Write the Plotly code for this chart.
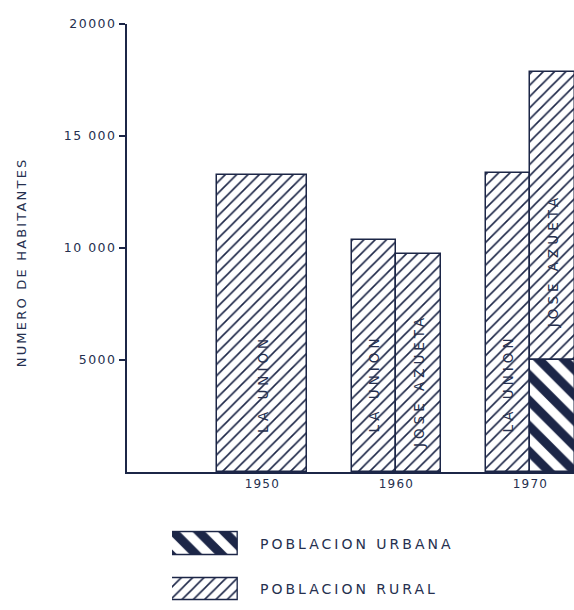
import plotly.graph_objects as go

# ---- data ----
years = [1950, 1960, 1970]
municipios = ["LA UNION", "JOSE AZUETA"]
la_union_total = [13250, 10350, 13350]
jose_azueta_total = [None, 9750, 17850]
jose_azueta_urbana = [None, None, 5000]
y_ticks = [5000, 10000, 15000, 20000]
y_ticktext = ["5000", "10 000", "15 000", "20000"]
legend_labels = ["POBLACION URBANA", "POBLACION RURAL"]
y_title = "NUMERO DE HABITANTES"

# ---- styling ----
NAVY = "#1c2647"
TEXT = "#26304f"
FONT = "DejaVu Sans"
GROUP_W = 6.7

RURAL_PAT = dict(shape="/", fgcolor=NAVY, bgcolor="white", size=8, solidity=0.2, fgopacity=1)
URB_PAT = dict(shape="\\", fgcolor=NAVY, bgcolor="white", size=18, solidity=0.5, fgopacity=1)

rural_x, rural_y, rural_base, rural_w = [], [], [], []
urb_x, urb_y, urb_w = [], [], []
labels = []
for i, yr in enumerate(years):
    vals = [(municipios[0], la_union_total[i], None),
            (municipios[1], jose_azueta_total[i], jose_azueta_urbana[i])]
    present = [v for v in vals if v[1] is not None]
    n = len(present)
    w = GROUP_W / n
    for j, (name, tot, urb) in enumerate(present):
        xc = yr - GROUP_W / 2 + w * (j + 0.5)
        base = urb if urb is not None else 0
        rural_x.append(xc); rural_y.append(tot - base); rural_base.append(base); rural_w.append(w)
        if urb is not None:
            urb_x.append(xc); urb_y.append(urb); urb_w.append(w)
        labels.append((xc, name, urb is not None))

fig = go.Figure()
fig.add_trace(go.Bar(
    x=rural_x, y=rural_y, base=rural_base, width=rural_w,
    marker=dict(color="white", opacity=1, line=dict(color=NAVY, width=1.5), pattern=RURAL_PAT),
    showlegend=False, xaxis="x", yaxis="y", hoverinfo="skip"))
fig.add_trace(go.Bar(
    x=urb_x, y=urb_y, width=urb_w,
    marker=dict(color="white", opacity=1, line=dict(color=NAVY, width=1.5), pattern=URB_PAT),
    showlegend=False, xaxis="x", yaxis="y", hoverinfo="skip"))

# legend swatches drawn in a small auxiliary subplot
fig.add_trace(go.Bar(
    y=[1], x=[1], orientation="h", width=0.495,
    marker=dict(color="white", opacity=1, line=dict(color=NAVY, width=1.5), pattern=URB_PAT),
    showlegend=False, xaxis="x2", yaxis="y2", hoverinfo="skip"))
fig.add_trace(go.Bar(
    y=[0], x=[1], orientation="h", width=0.495,
    marker=dict(color="white", opacity=1, line=dict(color=NAVY, width=1.5), pattern=RURAL_PAT),
    showlegend=False, xaxis="x2", yaxis="y2", hoverinfo="skip"))

annotations = []
for xc, name, has_urb in labels:
    if name == municipios[0]:
        yc = 3950
    elif has_urb:
        yc = 9450
    else:
        yc = 4100
    annotations.append(dict(x=xc, y=yc, xref="x", yref="y", text=name, textangle=-90,
                            xanchor="center", yanchor="middle", showarrow=False,
                            font=dict(family=FONT, size=13.5, color=TEXT)))

for k, lab in enumerate(legend_labels):
    annotations.append(dict(x=0.293, y=1 - k, xref="paper", yref="y2", text=lab,
                            xanchor="left", yanchor="middle", align="left", showarrow=False,
                            font=dict(family=FONT, size=14, color=TEXT)))

annotations.append(dict(x=-0.237, y=0.590, xref="paper", yref="paper",
                        text=y_title, textangle=-90, showarrow=False,
                        xanchor="center", yanchor="middle",
                        font=dict(family=FONT, size=13, color=TEXT)))

fig.update_layout(
    width=574, height=610,
    margin=dict(l=127, r=0, t=24, b=5),
    paper_bgcolor="white", plot_bgcolor="white",
    barmode="overlay", bargap=0,
    annotations=annotations,
    xaxis=dict(range=[1939.9, 1973.25], domain=[0, 1], tickvals=years,
               ticktext=[str(y) for y in years], showline=True, linecolor=NAVY, linewidth=2,
               showgrid=False, zeroline=False, ticks="", anchor="y",
               tickfont=dict(family=FONT, size=12, color=TEXT)),
    yaxis=dict(range=[0, 20000], domain=[0.2289, 1], tickvals=y_ticks, ticktext=y_ticktext,
               showline=True, linecolor=NAVY, linewidth=2, ticks="outside", ticklen=6,
               tickcolor=NAVY, tickwidth=1.5, showgrid=False, zeroline=False, anchor="x",
               tickfont=dict(family=FONT, size=12.5, color=TEXT)),
    xaxis2=dict(domain=[0.1007, 0.248], range=[0, 1], visible=False, anchor="y2", fixedrange=True),
    yaxis2=dict(domain=[0.0032, 0.1285], range=[-0.3, 1.3], visible=False, anchor="x2", fixedrange=True),
)

post = """
document.body.style.margin='0';
var gd=document.getElementById('{plot_id}');
function sp(){
  document.querySelectorAll('.annotation-text').forEach(function(t){
    var s=t.textContent;
    if(s.indexOf('POBLACION')===0) t.style.letterSpacing='3px';
    else if(s.indexOf('NUMERO')===0) t.style.letterSpacing='2.2px';
    else t.style.letterSpacing='4px';
  });
  document.querySelectorAll('.ytick text').forEach(function(t){t.style.letterSpacing='1.5px';});
  document.querySelectorAll('.xtick text').forEach(function(t){t.style.letterSpacing='1.2px';});
}
sp(); gd.on('plotly_afterplot', sp);
"""

fig.write_html("out.html", post_script=post, config={"displayModeBar": False})
